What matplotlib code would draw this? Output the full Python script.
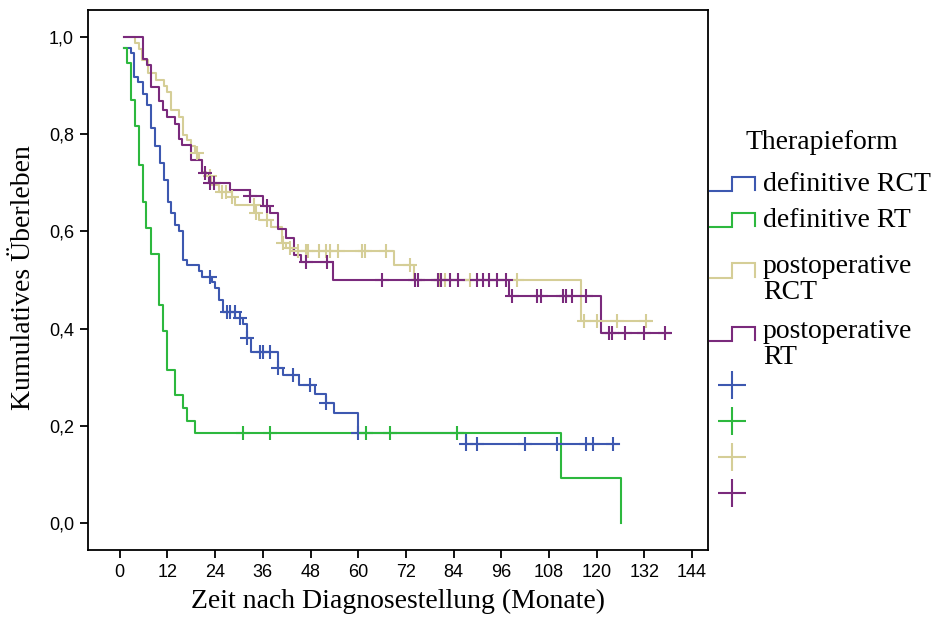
import numpy as np
import matplotlib
matplotlib.use("Agg")
import matplotlib.pyplot as plt
from matplotlib.ticker import FuncFormatter

# --- Kaplan-Meier step data (months, survival after the step) ---
rct_def_t = [1.0, 2.8, 3.6, 4.7, 5.8, 6.8, 7.8, 8.9, 10.0, 11.0, 12.1, 12.9, 13.8, 14.9,
             15.9, 16.8, 19.9, 20.7, 23.1, 23.9, 24.9, 25.9, 29.1, 31.0, 32.0, 33.0,
             39.9, 41.0, 45.1, 49.1, 52.0, 53.9, 60.0, 87.0]
rct_def_s = [0.977, 0.966, 0.918, 0.906, 0.883, 0.860, 0.812, 0.776, 0.741, 0.706, 0.660,
             0.638, 0.614, 0.600, 0.541, 0.530, 0.518, 0.507, 0.495, 0.483, 0.459, 0.434,
             0.422, 0.409, 0.381, 0.352, 0.320, 0.304, 0.285, 0.265, 0.248, 0.226, 0.186,
             0.162]
rct_def_end = 125.6
rct_def_cens = [22.8, 27.0, 27.8, 28.9, 30.3, 32.0, 35.2, 36.0, 37.8, 39.9, 43.7, 47.9,
                52.0, 60.0, 87.0, 89.9, 102.0, 110.0, 117.2, 119.1, 124.1]

rt_def_t = [1.0, 1.8, 2.9, 3.8, 4.8, 5.8, 6.7, 7.9, 9.9, 10.9, 12.0, 13.8, 16.0, 17.0,
            18.9, 111.1, 126.0]
rt_def_s = [0.977, 0.947, 0.871, 0.816, 0.737, 0.660, 0.606, 0.554, 0.448, 0.395, 0.316,
            0.263, 0.237, 0.211, 0.185, 0.092, 0.0]
rt_def_end = 126.0
rt_def_cens = [31.0, 37.8, 61.9, 67.9, 84.9]

rct_post_t = [1.0, 3.8, 4.8, 5.7, 7.0, 9.0, 11.0, 12.0, 12.8, 15.0, 16.0, 16.8, 18.0, 18.8,
              19.9, 20.7, 21.6, 23.0, 24.9, 28.2, 29.1, 34.0, 34.9, 38.0, 40.8, 41.9, 43.5,
              69.0, 74.0, 116.0]
rct_post_s = [1.0, 0.988, 0.975, 0.953, 0.925, 0.912, 0.898, 0.886, 0.850, 0.835, 0.799,
              0.787, 0.775, 0.761, 0.746, 0.721, 0.713, 0.696, 0.680, 0.670, 0.655, 0.638,
              0.624, 0.608, 0.576, 0.566, 0.559, 0.530, 0.499, 0.415]
rct_post_end = 133.5
rct_post_cens = [19.5, 22.8, 25.7, 26.8, 28.2, 33.7, 34.2, 37.0, 41.0, 42.9, 44.9, 46.9,
                 47.4, 50.0, 52.0, 52.9, 55.0, 61.0, 61.7, 66.9, 72.9, 80.5, 81.7, 88.0,
                 100.0, 116.8, 120.1, 125.1, 132.3]

rt_post_t = [1.0, 5.9, 6.8, 7.9, 9.9, 10.8, 11.8, 13.8, 14.8, 15.7, 17.8, 20.7, 22.5, 27.8,
             32.8, 36.0, 37.8, 39.9, 41.9, 43.9, 45.5, 53.7, 98.0, 121.0]
rt_post_s = [1.0, 0.955, 0.942, 0.896, 0.867, 0.850, 0.836, 0.821, 0.790, 0.777, 0.747,
             0.719, 0.700, 0.686, 0.672, 0.653, 0.637, 0.604, 0.587, 0.552, 0.537, 0.501,
             0.468, 0.391]
rt_post_end = 138.5
rt_post_cens = [21.5, 22.8, 23.6, 32.8, 37.0, 46.9, 52.2, 66.0, 74.2, 75.0, 80.0, 80.9,
                83.0, 85.0, 90.0, 91.3, 93.0, 95.0, 97.2, 98.8, 105.0, 105.9, 111.4, 112.2,
                113.9, 117.2, 123.0, 123.9, 127.0, 132.0, 137.3]

groups = ["definitive RCT", "definitive RT", "postoperative\nRCT", "postoperative\nRT"]
colors = ["#3D58B0", "#2DB83E", "#D5CE97", "#7A2A7C"]

series = [
    (rct_def_t, rct_def_s, rct_def_end, rct_def_cens),
    (rt_def_t, rt_def_s, rt_def_end, rt_def_cens),
    (rct_post_t, rct_post_s, rct_post_end, rct_post_cens),
    (rt_post_t, rt_post_s, rt_post_end, rt_post_cens),
]

SERIF = "Liberation Serif"
SANS = "Liberation Sans"

W, H = 935, 633
fig = plt.figure(figsize=(W / 100, H / 100), dpi=100)
# axes frame in pixels: left 88, right 708, top 10, bottom 550
ax = fig.add_axes([88 / W, 1 - 550 / H, (708 - 88) / W, (550 - 10) / H])

for (t, s, t_end, cens), col in zip(series, colors):
    tt = np.append(t, t_end)
    ss = np.append(s, s[-1])
    ax.step(tt, ss, where="post", color=col, lw=1.5, zorder=3)
    # censored observations: survival at that time
    idx = np.searchsorted(t, cens, side="right") - 1
    cy = np.asarray(s)[idx]
    ax.plot(cens, cy, ls="none", marker="+", ms=10, mew=1.5, color=col, zorder=4)

ax.set_xlim(-8, 148)
ax.set_ylim(-0.055, 1.055)
ax.set_xticks(np.arange(0, 145, 12))
ax.set_yticks(np.arange(0, 1.01, 0.2))
ax.yaxis.set_major_formatter(FuncFormatter(lambda v, p: f"{v:.1f}".replace(".", ",")))
for sp in ax.spines.values():
    sp.set_linewidth(1.3)
ax.tick_params(direction="out", length=6, width=1.3, labelsize=13, pad=4)
for lab in ax.get_xticklabels() + ax.get_yticklabels():
    lab.set_fontfamily(SANS)

ax.set_xlabel("Zeit nach Diagnosestellung (Monate)", fontsize=20, family=SERIF, labelpad=6)
fig.text(24 / W, 1 - 278 / H, "Kumulatives Überleben", rotation=90, fontsize=20,
         family=SERIF, ha="center", va="center")

# --- legend drawn in pixel coordinates to the right of the plot ---
lax = fig.add_axes([708 / W, 0, 1 - 708 / W, 1])
lax.set_xlim(708, W)
lax.set_ylim(H, 0)
lax.axis("off")

lax.text(746, 149, "Therapieform", fontsize=20, family=SERIF, va="baseline")

low_y = [191, 227, 278, 341]
high_y = [177, 213, 263, 327]
text_top = [172, 208, 254, 319]
for col, name, ly, hy, tt in zip(colors, groups, low_y, high_y, text_top):
    lax.plot([710, 732, 732, 755, 755], [ly, ly, hy, hy, ly - 1], color=col, lw=1.5,
             solid_joinstyle="miter", clip_on=False)
    lax.text(763, tt, name, fontsize=20, family=SERIF, va="top", linespacing=1.07)

plus_y = [385, 421, 457, 493]
for col, py in zip(colors, plus_y):
    lax.plot([732], [py], marker="+", ms=20, mew=1.5, color=col, clip_on=False)

fig.savefig("out.png", dpi=100)
